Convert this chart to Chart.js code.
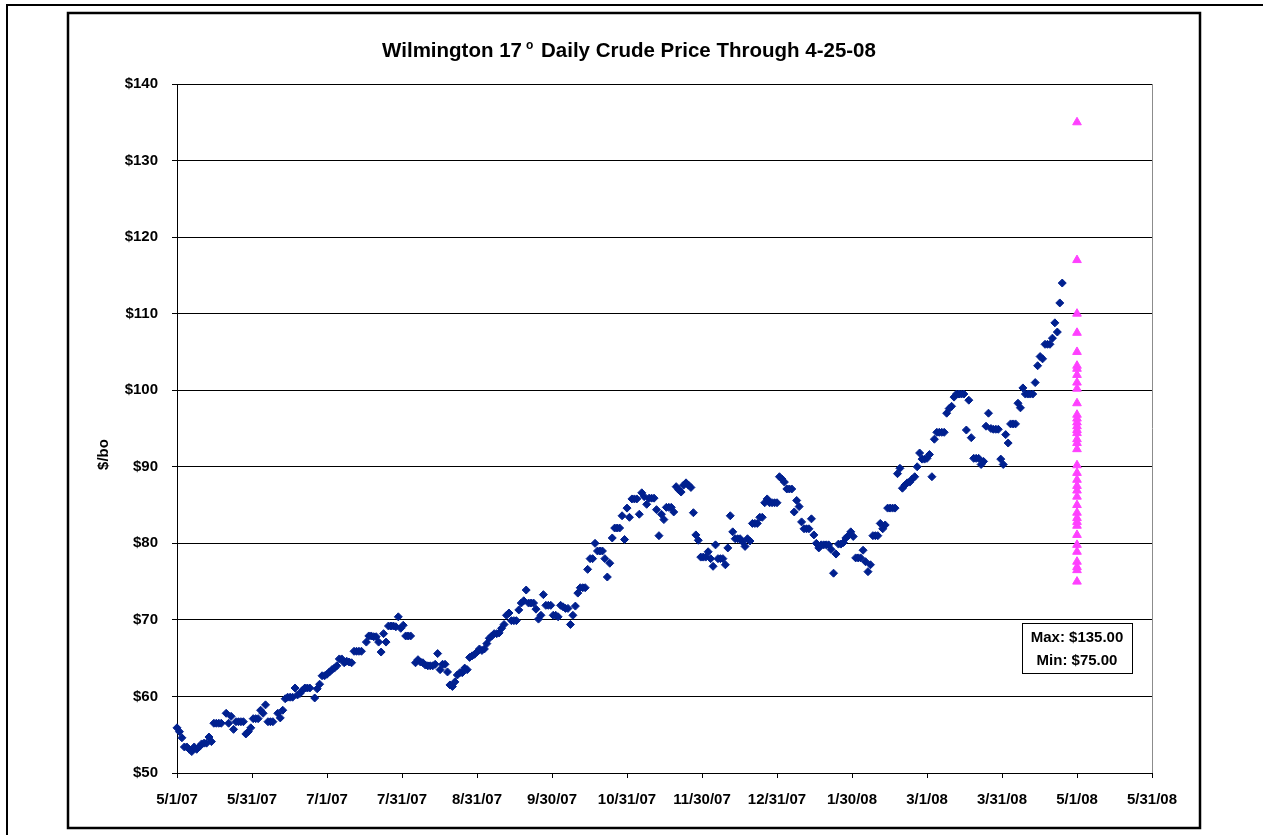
<!DOCTYPE html>
<html>
<head>
<meta charset="utf-8">
<title>Wilmington 17 Daily Crude Price</title>
<script src="https://cdn.jsdelivr.net/npm/chart.js@4.4.1/dist/chart.umd.min.js"></script>
<style>
  html, body { margin: 0; padding: 0; background: #fff; }
  #wrap { position: relative; width: 1263px; height: 835px; }
</style>
</head>
<body>
<div id="wrap"><canvas id="crudeChart"></canvas></div>
<script>
"use strict"

/*** DATA ***/
// one price per calendar day starting 5/1/07 (index = day), null = no quote
const prices = [
    55.9, 55.4, 54.6, 53.4, 53.4, 53.1, 52.8, 53.4, 53.1, 53.4,   // 0
    53.8, 53.9, 53.9, 54.7, 54.1, 56.5, 56.5, 56.5, 56.5, null,   // 10
    57.8, 56.5, 57.4, 55.7, 56.7, 56.7, 56.7, 56.7, 55.1, 55.4,   // 20
    55.9, 57.1, 57.1, 57.1, 58.2, 57.8, 58.9, 56.7, 56.7, 56.7,   // 30
    null, 57.8, 57.2, 58.2, 59.7, 59.9, 59.9, 59.9, 61.1, 60.2,   // 40
    60.4, 60.8, 61.1, 61.1, 61.1, null, 59.8, 61.0, 61.6, 62.7,   // 50
    62.7, 62.9, 63.2, 63.5, 63.7, 64.0, 64.9, 64.9, 64.4, 64.6,   // 60
    64.5, 64.4, 65.9, 65.9, 65.9, 65.9, null, 67.1, 67.9, 67.9,   // 70
    67.8, 67.8, 67.1, 65.8, 68.2, 67.1, 69.2, 69.2, 69.2, 69.1,   // 80
    70.4, 68.9, 69.3, 67.9, 67.9, 67.9, null, 64.4, 64.8, 64.5,   // 90
    64.4, 64.1, 64.0, 64.0, 64.0, 64.2, 65.6, 63.5, 64.2, 64.2,   // 100
    63.2, 61.5, 61.3, 61.9, 62.8, 63.1, 63.1, 63.7, 63.5, 65.1,   // 110
    65.3, 65.5, 65.8, 66.2, 66.0, 66.2, 66.9, 67.6, 67.9, 68.2,   // 120
    68.2, 68.3, 68.9, 69.4, 70.6, 70.9, 69.9, 69.9, 69.9, 71.3,   // 130
    72.2, 72.5, 73.9, 72.2, 72.2, 72.2, 71.4, 70.1, 70.6, 73.3,   // 140
    71.9, 71.9, 71.9, 70.6, 70.6, 70.4, 71.9, 71.7, 71.5, 71.5,   // 150
    69.4, 70.6, 71.8, 73.5, 74.2, 74.2, 74.2, 76.6, 78.0, 78.0,   // 160
    80.0, 79.0, 79.0, 79.0, 78.0, 75.6, 77.4, 80.7, 82.0, 82.0,   // 170
    82.0, 83.6, 80.5, 84.6, 83.4, 85.8, 85.8, 85.8, 83.8, 86.6,   // 180
    86.1, 85.1, 85.9, 85.9, 85.9, 84.4, 81.0, 83.8, 83.1, 84.7,   // 190
    84.7, 84.7, 84.1, 87.4, 87.0, 86.7, 87.6, 87.9, 87.6, 87.3,   // 200
    84.0, 81.1, 80.4, 78.2, 78.2, 78.2, 78.9, 78.0, 77.0, 79.8,   // 210
    78.0, 78.0, 78.0, 77.2, 79.4, 83.6, 81.5, 80.6, 80.6, 80.6,   // 220
    80.2, 79.6, 80.6, 80.3, 82.6, 82.6, 82.6, 83.4, 83.4, 85.3,   // 230
    85.8, 85.3, 85.3, 85.3, 85.3, 88.7, 88.4, 88.0, 87.1, 87.1,   // 240
    87.1, 84.1, 85.6, 84.8, 82.8, 81.9, 81.9, 81.9, 83.2, 81.1,   // 250
    80.0, 79.4, 79.8, 79.8, 79.8, 79.8, 79.2, 76.1, 78.6, 79.9,   // 260
    79.9, 80.1, 80.7, 81.0, 81.5, 80.9, 78.1, 78.1, 78.1, 79.1,   // 270
    77.6, 76.3, 77.2, 81.0, 81.0, 81.0, 82.6, 81.9, 82.4, 84.6,   // 280
    84.6, 84.6, 84.6, 89.1, 89.8, 87.2, 87.6, 87.9, 88.0, 88.4,   // 290
    88.7, 90.0, 91.8, 91.0, 91.0, 91.1, 91.6, 88.7, 93.6, 94.5,   // 300
    94.5, 94.5, 94.5, 97.0, 97.6, 97.9, 99.1, 99.5, 99.5, 99.5,   // 310
    99.5, 94.8, 98.7, 93.8, 91.1, 91.1, 91.1, 90.3, 90.7, 95.3,   // 320
    97.0, 95.0, 94.9, 94.9, 94.9, 91.0, 90.3, 94.2, 93.1, 95.6,   // 330
    95.6, 95.6, 98.3, 97.7, 100.3, 99.5, 99.5, 99.5, 99.5, 101.0, // 340
    103.2, 104.4, 104.1, 106.0, 106.0, 106.0, 106.8, 108.8, 107.6, 111.4, // 350
    114.0                                                         // 360 = 4/25/08
];

// quotes plotted on 5/1/08 (day 366)
const quoteDay = 366;
const quotes = [
    135.0, 117.0, 110.0, 107.5, 105.0, 103.2, 102.8, 102.0, 101.0, 100.2,
    98.3, 96.8, 96.3, 95.8, 95.3, 94.8, 94.4, 93.6, 93.1, 92.3,
    90.2, 89.2, 88.3, 87.5, 86.9, 86.1, 85.0, 84.0, 83.3, 82.8,
    82.3, 81.1, 79.8, 78.9, 77.6, 76.9, 76.5, 75.0
];

const xTickLabels = ['5/1/07', '5/31/07', '7/1/07', '7/31/07', '8/31/07', '9/30/07', '10/31/07',
                     '11/30/07', '12/31/07', '1/30/08', '3/1/08', '3/31/08', '5/1/08', '5/31/08'];
const xTickStep = 30.5;   // days between labels
const yTicks = [50, 60, 70, 80, 90, 100, 110, 120, 130, 140];

const titleText = ['Wilmington 17', 'o', ' Daily Crude Price Through 4-25-08'];
const yTitle = '$/bo';
/*** END ***/

const FONT = '"Liberation Sans", Arial, Helvetica, sans-serif';

let pricePoints = [];
prices.forEach(function(v, day){
    if (v !== null) pricePoints.push({ x: day, y: v });
});
let quotePoints = quotes.map(function(v){ return { x: quoteDay, y: v }; });

// frames, title, y title and the max / min box
const framePlugin = {
    id: 'frame',
    afterDraw: function(chart){
        const ctx = chart.ctx;
        const a = chart.chartArea;
        const xs = chart.scales.x;
        const ys = chart.scales.y;
        ctx.save();

        // page edge
        ctx.strokeStyle = '#000';
        ctx.lineWidth = 2;
        ctx.beginPath();
        ctx.moveTo(7, 835);
        ctx.lineTo(7, 5);
        ctx.lineTo(1263, 5);
        ctx.stroke();

        // chart frame
        ctx.lineWidth = 2.5;
        ctx.strokeRect(68, 13, 1132, 815);

        // right edge of plot area
        ctx.strokeStyle = '#8c8c8c';
        ctx.lineWidth = 1;
        ctx.beginPath();
        ctx.moveTo(Math.round(a.right) + 0.5, a.top);
        ctx.lineTo(Math.round(a.right) + 0.5, a.bottom);
        ctx.stroke();

        // title with the raised "o"
        ctx.fillStyle = '#000';
        ctx.textBaseline = 'alphabetic';
        ctx.textAlign = 'left';
        const big = 'bold 20.5px ' + FONT;
        const small = 'bold 12px ' + FONT;
        ctx.font = big;
        const w1 = ctx.measureText(titleText[0]).width;
        const w3 = ctx.measureText(titleText[2]).width;
        ctx.font = small;
        const w2 = ctx.measureText(titleText[1]).width + 6;
        let tx = 629 - (w1 + w2 + w3) / 2;
        ctx.font = big;
        ctx.fillText(titleText[0], tx, 57);
        ctx.font = small;
        ctx.fillText(titleText[1], tx + w1 + 4, 49);
        ctx.font = big;
        ctx.fillText(titleText[2], tx + w1 + w2, 57);

        // y axis title
        ctx.save();
        ctx.translate(104, (a.top + a.bottom) / 2 + 26);
        ctx.rotate(-Math.PI / 2);
        ctx.font = 'bold 15px ' + FONT;
        ctx.textAlign = 'center';
        ctx.textBaseline = 'middle';
        ctx.fillText(yTitle, 0, 0);
        ctx.restore();

        // max / min box under the quotes
        const hi = Math.max.apply(null, quotes);
        const lo = Math.min.apply(null, quotes);
        const cx = xs.getPixelForValue(quoteDay);
        const top = Math.round(ys.getPixelForValue(70)) + 3.5;
        const bw = 110, bh = 50;
        ctx.fillStyle = '#fff';
        ctx.fillRect(cx - bw / 2, top, bw, bh);
        ctx.strokeStyle = '#000';
        ctx.lineWidth = 1;
        ctx.strokeRect(Math.round(cx - bw / 2) + 0.5, top, bw, bh);
        ctx.fillStyle = '#000';
        ctx.font = 'bold 15px ' + FONT;
        ctx.textAlign = 'center';
        ctx.textBaseline = 'middle';
        ctx.fillText('Max: $' + hi.toFixed(2), cx, top + 14);
        ctx.fillText('Min: $' + lo.toFixed(2), cx, top + 37);

        ctx.restore();
    }
};

const ctx = document.getElementById('crudeChart').getContext('2d');
const crudeChart = new Chart(ctx, {
    type: 'scatter',
    data: {
        datasets: [{
            label: 'Daily price',
            data: pricePoints,
            pointStyle: 'rectRot',
            pointRadius: 4,
            pointBorderWidth: 1,
            backgroundColor: '#00208f',
            borderColor: '#00208f',
            clip: false
        }, {
            label: 'Quotes 5/1/08',
            data: quotePoints,
            pointStyle: 'triangle',
            pointRadius: 5,
            pointBorderWidth: 1,
            backgroundColor: '#ff40ff',
            borderColor: '#ff40ff',
            clip: false
        }]
    },
    options: {
        responsive: true,
        maintainAspectRatio: false,
        animation: false,
        events: [],
        layout: {
            padding: { left: 0, top: 84, right: 111, bottom: 0 }
        },
        plugins: {
            legend: { display: false },
            title: { display: false },
            tooltip: { enabled: false }
        },
        scales: {
            x: {
                type: 'linear',
                min: 0,
                max: xTickStep * (xTickLabels.length - 1),
                afterBuildTicks: function(scale){
                    scale.ticks = xTickLabels.map(function(l, i){ return { value: i * xTickStep }; });
                },
                afterFit: function(scale){ scale.height = 62; },
                grid: {
                    drawOnChartArea: false,
                    drawTicks: true,
                    tickLength: 5,
                    color: '#000'
                },
                border: { color: '#000', width: 1 },
                ticks: {
                    autoSkip: false,
                    maxRotation: 0,
                    padding: 13,
                    color: '#000',
                    font: { family: FONT, size: 15, weight: 'bold' },
                    callback: function(value, index){ return xTickLabels[index]; }
                }
            },
            y: {
                min: yTicks[0],
                max: yTicks[yTicks.length - 1],
                afterBuildTicks: function(scale){
                    scale.ticks = yTicks.map(function(v){ return { value: v }; });
                },
                afterFit: function(scale){ scale.width = 177; },
                grid: {
                    color: '#000',
                    lineWidth: 1,
                    drawTicks: true,
                    tickLength: 5
                },
                border: { color: '#000', width: 1 },
                ticks: {
                    padding: 14,
                    color: '#000',
                    font: { family: FONT, size: 15, weight: 'bold' },
                    callback: function(value){ return '$' + value; }
                }
            }
        }
    },
    plugins: [framePlugin]
});
</script>
</body>
</html>
